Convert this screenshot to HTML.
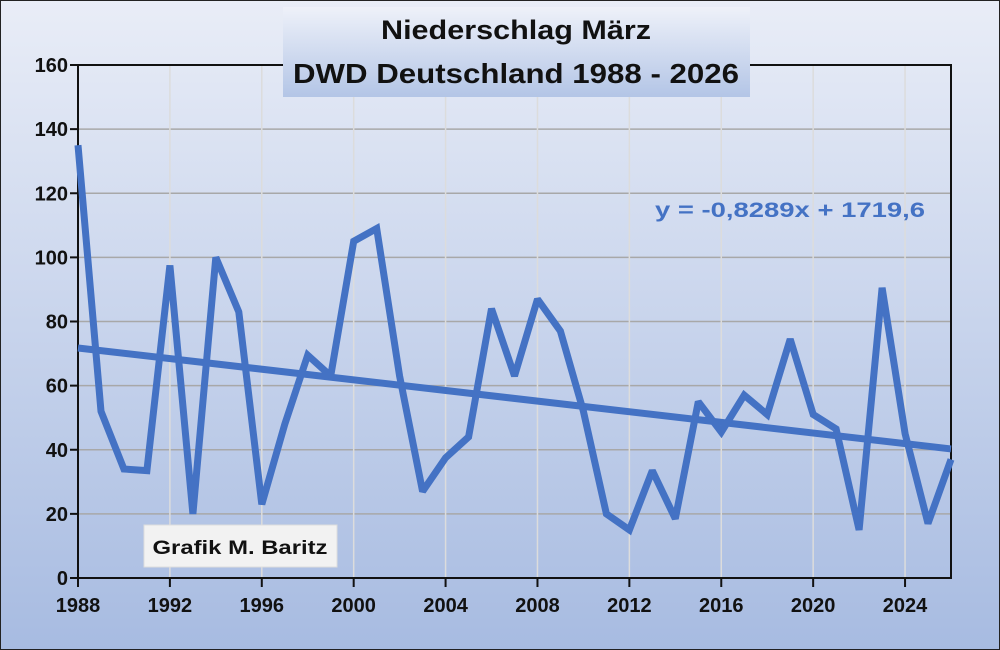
<!DOCTYPE html>
<html><head><meta charset="utf-8"><style>
body{margin:0;background:#fff}
svg{display:block;font-family:"Liberation Sans",sans-serif}
</style></head><body>
<svg id="chart" width="1000" height="650">
<defs>
<linearGradient id="bg" x1="0" y1="0" x2="0" y2="1"><stop offset="0" stop-color="#e9edf7"/><stop offset="1" stop-color="#a7bbe1"/></linearGradient>
<linearGradient id="tb" x1="0" y1="0" x2="0" y2="1"><stop offset="0" stop-color="#eef1f9"/><stop offset="1" stop-color="#b3c5e6"/></linearGradient>
</defs>
<rect x="0" y="0" width="1000" height="650" fill="url(#bg)" stroke="#222" stroke-width="2"/>
<g id="grid"></g>
<g id="axes"></g>
<g id="series"></g>
<rect x="283" y="7" width="467" height="90" fill="url(#tb)"/>
<text x="516" y="39" text-anchor="middle" font-size="27" font-weight="bold" fill="#111" textLength="270" lengthAdjust="spacingAndGlyphs">Niederschlag März</text>
<text x="516" y="83" text-anchor="middle" font-size="28" font-weight="bold" fill="#111" textLength="446" lengthAdjust="spacingAndGlyphs">DWD Deutschland 1988 - 2026</text>
<text x="790" y="217" text-anchor="middle" font-size="21" font-weight="bold" fill="#4472c4" textLength="270" lengthAdjust="spacingAndGlyphs">y = -0,8289x + 1719,6</text>
<rect x="144" y="525" width="193" height="42" fill="#f2f2f2" stroke="#ddd"/>
<text x="240" y="554" text-anchor="middle" font-size="19" font-weight="bold" fill="#111" textLength="175" lengthAdjust="spacingAndGlyphs">Grafik M. Baritz</text>
</svg>
<script>
const years=[1988,1989,1990,1991,1992,1993,1994,1995,1996,1997,1998,1999,2000,2001,2002,2003,2004,2005,2006,2007,2008,2009,2010,2011,2012,2013,2014,2015,2016,2017,2018,2019,2020,2021,2022,2023,2024,2025,2026];
const precip=[135,52,34,33.5,97.5,20,100,83,23,48,69.5,63,105,109,63,27,37.5,44,84,63,87,77,52,20,15,33.5,18.5,55,45.5,57,51,74.5,51,46.5,15,90.5,45,17,37];
const yTicks=[0,20,40,60,80,100,120,140,160];
const xTicks=[1988,1992,1996,2000,2004,2008,2012,2016,2020,2024];
const trendSlope=-0.8289, trendIntercept=1719.6;
const NS='http://www.w3.org/2000/svg';
const L=78,R=951,T=65,B=578;
const xs=v=>L+(v-1988)/(2026-1988)*(R-L);
const ys=v=>B-v/160*(B-T);
function mk(tag,attrs,parent){const e=document.createElementNS(NS,tag);for(const k in attrs)e.setAttribute(k,attrs[k]);document.getElementById(parent).appendChild(e);return e;}
yTicks.forEach(t=>{
 const g=mk('line',{x1:L,x2:R,y1:ys(t),y2:ys(t),stroke:'#a8a8a8','stroke-width':1.5},'grid');
 
 
 const tk=mk('line',{x1:L-8,x2:L,y1:ys(t),y2:ys(t),stroke:'#111','stroke-width':2},'axes');
 
 
 const lb=mk('text',{x:L-10,y:ys(t)+7,'text-anchor':'end','font-size':20,'font-weight':'bold',fill:'#111'},'axes');
 lb.textContent=t;
 
 
});
xTicks.forEach(t=>{
 const g=mk('line',{x1:xs(t),x2:xs(t),y1:T,y2:B,stroke:'#dcdcdc','stroke-width':1.5},'grid');
 
 
 const tk=mk('line',{x1:xs(t),x2:xs(t),y1:B,y2:B+9,stroke:'#111','stroke-width':2},'axes');
 
 
 const lb=mk('text',{x:xs(t),y:B+34,'text-anchor':'middle','font-size':20,'font-weight':'bold',fill:'#111'},'axes');
 lb.textContent=t;
 
 
});
const frame=mk('rect',{x:L,y:T,width:R-L,height:B-T,fill:'none',stroke:'#111','stroke-width':2},'axes');


const y0=years[0],y1=years[years.length-1];
const tr=mk('line',{x1:xs(y0),y1:ys(trendSlope*y0+trendIntercept),x2:xs(y1),y2:ys(trendSlope*y1+trendIntercept),stroke:'#4472c4','stroke-width':7},'series');


const pts=years.map((y,i)=>xs(y).toFixed(1)+','+ys(precip[i]).toFixed(1)).join(' ');
const pl=mk('polyline',{points:pts,fill:'none',stroke:'#4472c4','stroke-width':7,'stroke-linejoin':'miter','stroke-miterlimit':2},'series');


</script>
</body></html>
